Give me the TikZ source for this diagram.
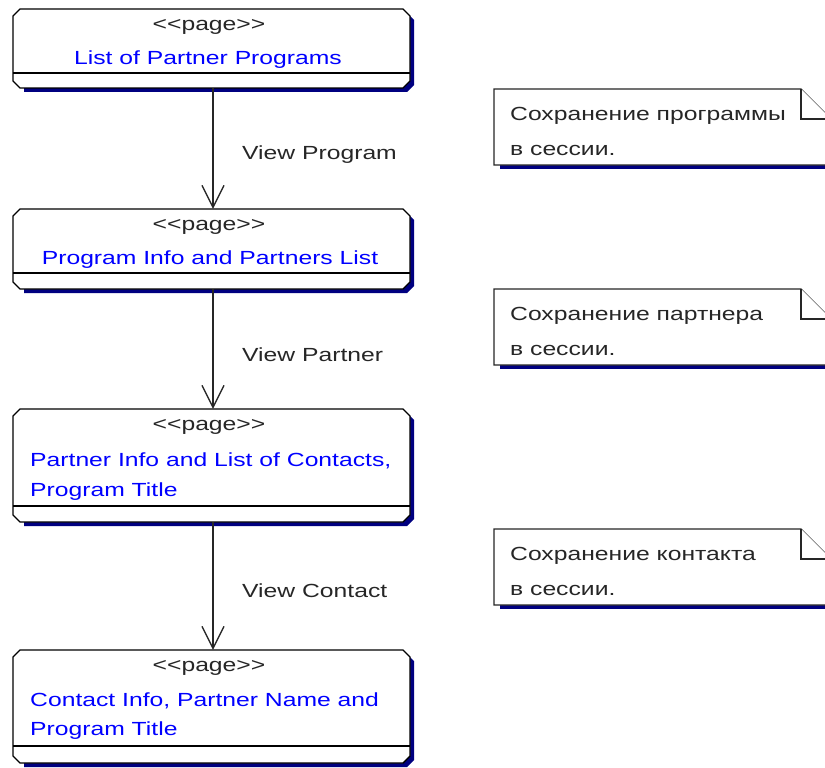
\documentclass[tikz,border=0pt]{standalone}
\usepackage{fontspec}
\setmainfont{Liberation Sans}[FakeStretch=1.3]
\usetikzlibrary{arrows.meta}
\definecolor{navy}{RGB}{0,0,128}
\definecolor{pageblue}{RGB}{0,0,255}

% page class box: name, top, separator, bottom (y grows downwards)
\newcommand\umlpage[4]{%
  \fill[navy] (24,#2+4) -- (407,#2+4) -- (414,#2+11) -- (414,#4-3) -- (407,#4+4) -- (24,#4+4) -- cycle;
  \filldraw[boxline] (20,#2) -- (403,#2) -- (410,#2+7) -- (410,#4-7) -- (403,#4) -- (20,#4) -- (13,#4-7) -- (13,#2+7) -- cycle;
  \draw[boxline] (13,#3) -- (410,#3);
  \node[inner sep=0pt, minimum width=397pt, minimum height=(#4-#2)*1pt] (#1) at (213,{(#2+#4)/2}) {};
}
% note with folded corner: name, top
\newcommand\umlnote[2]{%
  \fill[navy] (500,#2+76) rectangle (832,#2+80);
  \filldraw[noteline] (494,#2) -- (801,#2) -- (831,#2+30) -- (831,#2+76) -- (494,#2+76) -- cycle;
  \draw[noteline] (801,#2) -- (801,#2+30) -- (831,#2+30);
  \node[inner sep=0pt, minimum width=337pt, minimum height=76pt] (#1) at (662.5,#2+38) {};
}
\newcommand\stereotype{<{}<page>{}>}

\begin{document}
\begin{tikzpicture}[x=1pt, y=-1pt,
  font=\fontsize{19}{32}\selectfont,
  boxline/.style={draw=black, fill=white, line width=1.4pt},
  noteline/.style={draw=black!85, fill=white, line width=1.2pt},
  stereo/.style={inner sep=0pt, text=black!85},
  pagename/.style={inner sep=0pt, text=pageblue},
  notetext/.style={inner sep=0pt, anchor=west, text=black!85},
  flowlabel/.style={inner sep=0pt, anchor=west, text=black!85},
  flow/.style={draw=black!85, line width=1.3pt,
    -{Straight Barb[length=22pt, width=22pt, line width=1.3pt]}}]
\useasboundingbox (0,0) rectangle (825,768);
\clip (0,0) rectangle (825,768);

% pages
\umlpage{p1}{9}{73}{88}
\node[stereo] (p1s) at (209,27) {\stereotype};
\node[pagename] (p1n) at (208,60) {List of Partner Programs};

\umlpage{p2}{209}{273}{289}
\node[stereo] (p2s) at (209,227) {\stereotype};
\node[pagename] (p2n) at (210,260) {Program Info and Partners List};

\umlpage{p3}{409}{506}{522}
\node[stereo] (p3s) at (209,427) {\stereotype};
\node[pagename, anchor=west] (p3n) at (30,461) {Partner Info and List of Contacts,};
\node[pagename, anchor=west] (p3m) at (30,492) {Program Title};

\umlpage{p4}{650}{746}{763}
\node[stereo] (p4s) at (209,668) {\stereotype};
\node[pagename, anchor=west] (p4n) at (30,701) {Contact Info, Partner Name and};
\node[pagename, anchor=west] (p4m) at (30,731) {Program Title};

% transitions
\draw[flow] (p1.south) -- (p2.north);
\draw[flow] (p2.south) -- (p3.north);
\draw[flow] (p3.south) -- (p4.north);
\node[flowlabel] (l1) at (242,155) {View Program};
\node[flowlabel] (l2) at (242,355) {View Partner};
\node[flowlabel] (l3) at (242,591) {View Contact};

% notes
\umlnote{n1}{89}
\node[notetext] (n1a) at (510,116) {Сохранение программы};
\node[notetext] (n1b) at (510,150) {в сессии.};

\umlnote{n2}{289}
\node[notetext] (n2a) at (510,316) {Сохранение партнера};
\node[notetext] (n2b) at (510,350) {в сессии.};

\umlnote{n3}{529}
\node[notetext] (n3a) at (510,556) {Сохранение контакта};
\node[notetext] (n3b) at (510,590) {в сессии.};
\end{tikzpicture}
\end{document}
